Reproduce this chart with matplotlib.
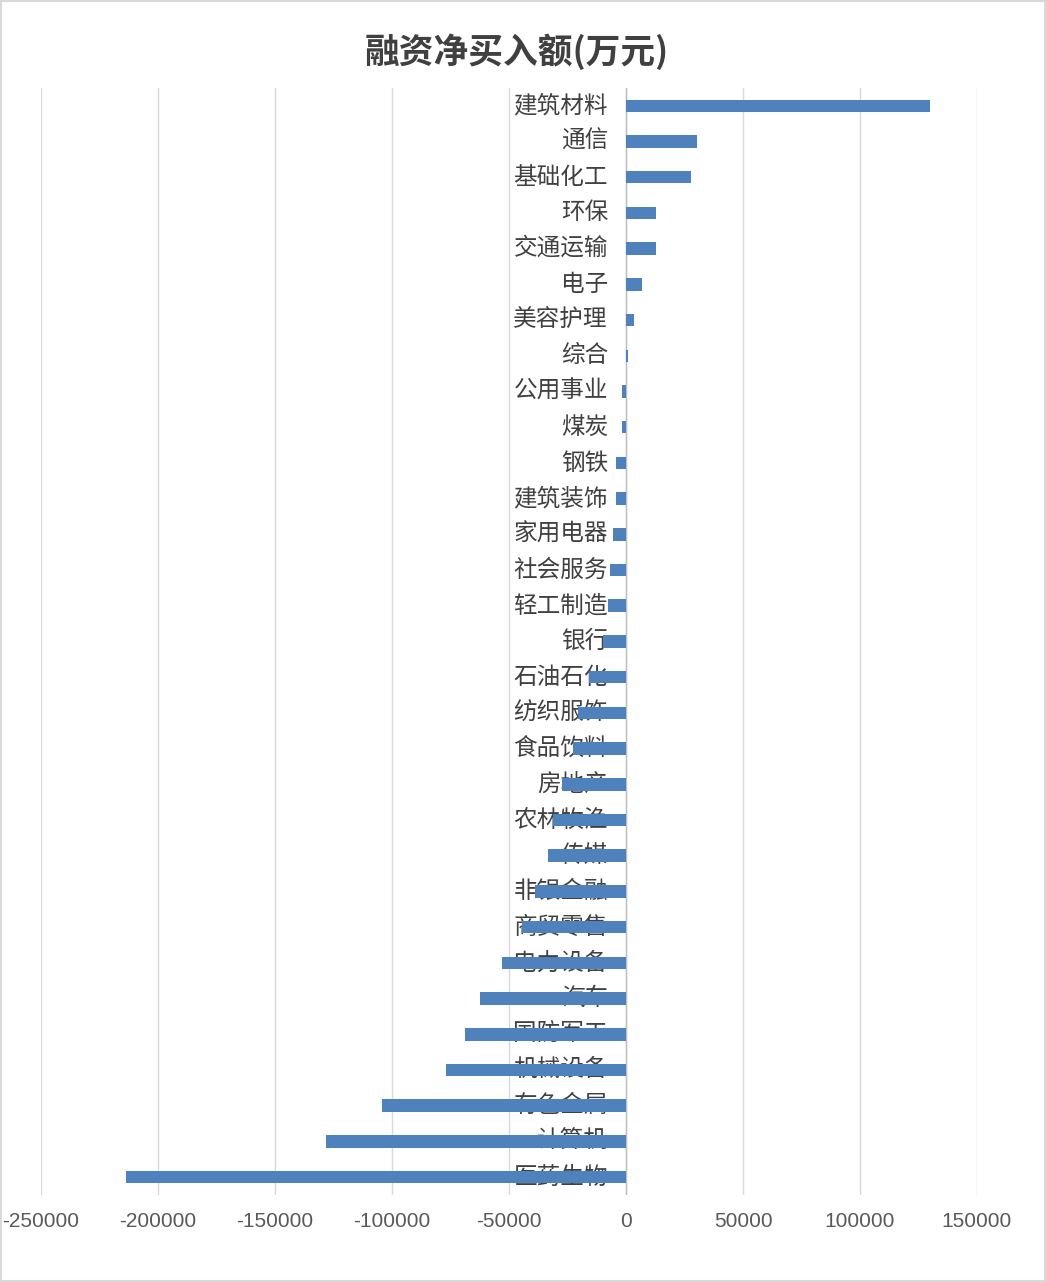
import matplotlib.pyplot as plt
from matplotlib.patches import Rectangle

plt.rcParams['font.family'] = ['Noto Sans CJK SC', 'DejaVu Sans']

# industries, top to bottom, and net financing purchase (10k yuan)
industries = ['建筑材料', '通信', '基础化工', '环保', '交通运输', '电子', '美容护理', '综合',
              '公用事业', '煤炭', '钢铁', '建筑装饰', '家用电器', '社会服务', '轻工制造', '银行',
              '石油石化', '纺织服饰', '食品饮料', '房地产', '农林牧渔', '传媒', '非银金融',
              '商贸零售', '电力设备', '汽车', '国防军工', '机械设备', '有色金属', '计算机', '医药生物']
net_buy = [130000, 30500, 28000, 12800, 12800, 6800, 3400, 1000,
           -1700, -1700, -4300, -4300, -5500, -6800, -7700, -9800,
           -16000, -20500, -22600, -27400, -31000, -33300, -38900,
           -44400, -53000, -62400, -68800, -76900, -104300, -128200, -213700]
xticks = list(range(-250000, 150001, 50000))

fig = plt.figure(figsize=(10.46, 12.82), dpi=100)
ax = fig.add_axes([0.0392, 0.0679, 0.8948, 0.8635])

pos = list(range(len(industries)))
ax.barh(pos, net_buy, height=0.35, color='#4F81BD', zorder=3)
ax.set_ylim(len(industries) - 0.5, -0.5)
ax.set_xlim(-250000, 150000)

ax.set_xticks(xticks)
ax.set_xticklabels([str(t) for t in xticks], family=['Liberation Sans', 'DejaVu Sans'],
                   fontsize=15, color='#595959')
ax.tick_params(axis='x', length=0, pad=12)
ax.set_yticks([])
ax.grid(axis='x', color='#d9d9d9', linewidth=1, zorder=0)
ax.axvline(0, color='#bfbfbf', linewidth=1, zorder=2)
for s in ax.spines.values():
    s.set_visible(False)

# category labels sit just left of the zero line, under the bars
for p, name in zip(pos, industries):
    ax.annotate(name, xy=(0, p), xytext=(-18, 0), textcoords='offset pixels',
                ha='right', va='center', fontsize=17, color='#404040', zorder=1)

fig.text(0.494, 0.960, '融资净买入额(万元)', ha='center', va='center',
         fontsize=25, fontweight='bold', color='#404040')

# thin light frame round the whole chart
fig.patches.append(Rectangle((0.001, 0.001), 0.998, 0.998, transform=fig.transFigure,
                             fill=False, edgecolor='#d9d9d9', linewidth=1.5))

fig.savefig('out.png', dpi=100)
